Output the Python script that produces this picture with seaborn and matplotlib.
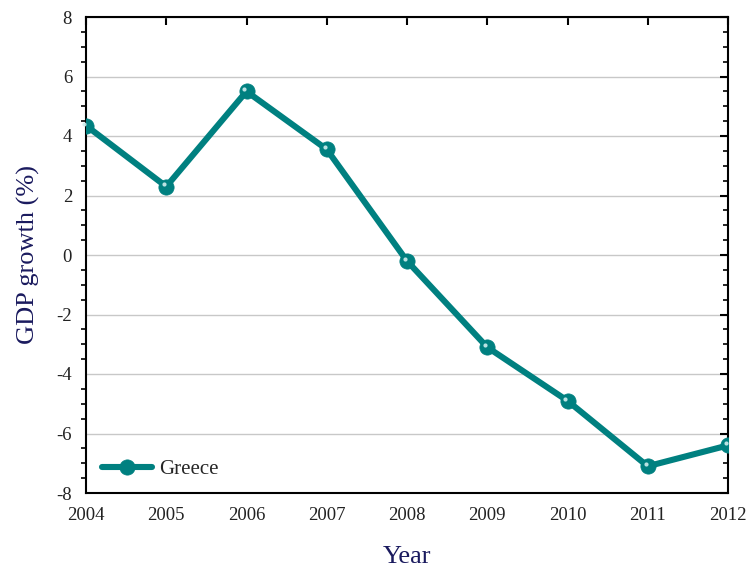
import matplotlib
matplotlib.use("Agg")
import matplotlib.pyplot as plt
import matplotlib.transforms as mtransforms
import seaborn as sns
import pandas as pd
from matplotlib.ticker import MultipleLocator

years = [2004, 2005, 2006, 2007, 2008, 2009, 2010, 2011, 2012]
growth = [4.35, 2.3, 5.5, 3.55, -0.2, -3.1, -4.9, -7.1, -6.4]
series_name = "Greece"

df = pd.DataFrame({"Year": years, "GDP": growth})

sns.set_theme(style="white")
plt.rcParams['font.family'] = ['Liberation Serif', 'DejaVu Serif']
plt.rcParams['axes.unicode_minus'] = False

fig = plt.figure(figsize=(7.51, 5.68), dpi=100)
ax = fig.add_axes([86/751, 1-493/568, (728-86)/751, (493-17)/568])

teal = "#008080"
sns.lineplot(data=df, x="Year", y="GDP", ax=ax, color=teal, linewidth=4.4,
             marker="o", markersize=11, markerfacecolor=teal, markeredgecolor=teal,
             markeredgewidth=0.5, label=series_name, zorder=3)
# highlight on markers (offset up-left)
hl = mtransforms.offset_copy(ax.transData, fig=fig, x=-1.5, y=1.5, units="points")
ax.scatter(df["Year"], df["GDP"], s=9, color="#cfeeee", alpha=0.9, zorder=4,
           linewidths=0, transform=hl, clip_on=False)

ax.set_xlim(2004, 2012)
ax.set_ylim(-8, 8)
ax.xaxis.set_major_locator(MultipleLocator(1))
ax.yaxis.set_major_locator(MultipleLocator(2))
ax.yaxis.set_minor_locator(MultipleLocator(0.5))
ax.yaxis.grid(True, color="#c8c8c8", linewidth=1)
ax.xaxis.grid(False)

for s in ax.spines.values():
    s.set_visible(True)
    s.set_color("black")
    s.set_linewidth(1.5)

ax.tick_params(axis="both", which="major", direction="out", length=6, width=1.5,
               labelsize=13.5, colors="black", labelcolor="#222222", pad=4)
ax.tick_params(axis="y", which="minor", direction="out", length=3.5, width=1.2,
               left=True, color="black")
ax.tick_params(axis="x", which="major", top=True, labeltop=False)
ax.tick_params(axis="y", which="both", right=True, labelright=False)
for t in ax.xaxis.get_major_ticks():
    t.tick2line.set_marker(3)  # down from top
    t.tick2line.set_markersize(6)
for t in ax.yaxis.get_major_ticks() + ax.yaxis.get_minor_ticks():
    t.tick2line.set_marker(0)  # pointing left
for t in ax.yaxis.get_major_ticks():
    t.tick2line.set_markersize(6)
for t in ax.yaxis.get_minor_ticks():
    t.tick2line.set_markersize(3.5)

ax.set_xlabel("Year", fontsize=19, color="#1a1a5e", labelpad=16)
ax.set_ylabel("GDP growth (%)", fontsize=19, color="#1a1a5e", labelpad=12)

ax.legend(loc="lower left", frameon=False, fontsize=15, handlelength=2.4,
          bbox_to_anchor=(-0.005, -0.01), handletextpad=0.35)

fig.savefig("out.png", dpi=100)
